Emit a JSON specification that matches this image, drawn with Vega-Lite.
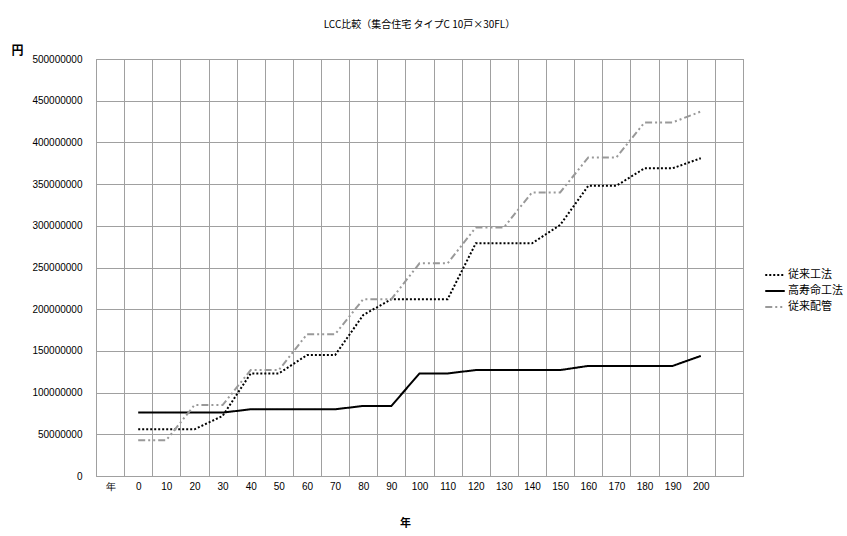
{
  "$schema": "https://vega.github.io/schema/vega-lite/v6.json",
  "width": 647,
  "height": 417,
  "autosize": {"type": "none"},
  "padding": {"left": 96, "top": 59, "right": 104, "bottom": 60},
  "background": "white",
  "title": {
    "text": "LCC比較（集合住宅 タイプC 10戸×30FL）",
    "font": "Noto Sans CJK JP",
    "fontSize": 10,
    "fontWeight": "normal",
    "color": "black",
    "anchor": "middle",
    "offset": 14
  },
  "data": {
    "values": [
      {"year": "0", "series": "従来工法", "value": 56000000},
      {"year": "10", "series": "従来工法", "value": 56000000},
      {"year": "20", "series": "従来工法", "value": 56000000},
      {"year": "30", "series": "従来工法", "value": 72000000},
      {"year": "40", "series": "従来工法", "value": 123000000},
      {"year": "50", "series": "従来工法", "value": 123000000},
      {"year": "60", "series": "従来工法", "value": 145000000},
      {"year": "70", "series": "従来工法", "value": 145000000},
      {"year": "80", "series": "従来工法", "value": 193000000},
      {"year": "90", "series": "従来工法", "value": 212000000},
      {"year": "100", "series": "従来工法", "value": 212000000},
      {"year": "110", "series": "従来工法", "value": 212000000},
      {"year": "120", "series": "従来工法", "value": 279000000},
      {"year": "130", "series": "従来工法", "value": 279000000},
      {"year": "140", "series": "従来工法", "value": 279000000},
      {"year": "150", "series": "従来工法", "value": 301000000},
      {"year": "160", "series": "従来工法", "value": 348000000},
      {"year": "170", "series": "従来工法", "value": 348000000},
      {"year": "180", "series": "従来工法", "value": 369000000},
      {"year": "190", "series": "従来工法", "value": 369000000},
      {"year": "200", "series": "従来工法", "value": 381000000},
      {"year": "0", "series": "高寿命工法", "value": 76000000},
      {"year": "10", "series": "高寿命工法", "value": 76000000},
      {"year": "20", "series": "高寿命工法", "value": 76000000},
      {"year": "30", "series": "高寿命工法", "value": 76000000},
      {"year": "40", "series": "高寿命工法", "value": 80000000},
      {"year": "50", "series": "高寿命工法", "value": 80000000},
      {"year": "60", "series": "高寿命工法", "value": 80000000},
      {"year": "70", "series": "高寿命工法", "value": 80000000},
      {"year": "80", "series": "高寿命工法", "value": 84000000},
      {"year": "90", "series": "高寿命工法", "value": 84000000},
      {"year": "100", "series": "高寿命工法", "value": 123000000},
      {"year": "110", "series": "高寿命工法", "value": 123000000},
      {"year": "120", "series": "高寿命工法", "value": 127000000},
      {"year": "130", "series": "高寿命工法", "value": 127000000},
      {"year": "140", "series": "高寿命工法", "value": 127000000},
      {"year": "150", "series": "高寿命工法", "value": 127000000},
      {"year": "160", "series": "高寿命工法", "value": 132000000},
      {"year": "170", "series": "高寿命工法", "value": 132000000},
      {"year": "180", "series": "高寿命工法", "value": 132000000},
      {"year": "190", "series": "高寿命工法", "value": 132000000},
      {"year": "200", "series": "高寿命工法", "value": 144000000},
      {"year": "0", "series": "従来配管", "value": 43000000},
      {"year": "10", "series": "従来配管", "value": 43000000},
      {"year": "20", "series": "従来配管", "value": 85000000},
      {"year": "30", "series": "従来配管", "value": 85000000},
      {"year": "40", "series": "従来配管", "value": 127000000},
      {"year": "50", "series": "従来配管", "value": 127000000},
      {"year": "60", "series": "従来配管", "value": 170000000},
      {"year": "70", "series": "従来配管", "value": 170000000},
      {"year": "80", "series": "従来配管", "value": 212000000},
      {"year": "90", "series": "従来配管", "value": 212000000},
      {"year": "100", "series": "従来配管", "value": 255000000},
      {"year": "110", "series": "従来配管", "value": 255000000},
      {"year": "120", "series": "従来配管", "value": 298000000},
      {"year": "130", "series": "従来配管", "value": 298000000},
      {"year": "140", "series": "従来配管", "value": 340000000},
      {"year": "150", "series": "従来配管", "value": 340000000},
      {"year": "160", "series": "従来配管", "value": 382000000},
      {"year": "170", "series": "従来配管", "value": 382000000},
      {"year": "180", "series": "従来配管", "value": 424000000},
      {"year": "190", "series": "従来配管", "value": 424000000},
      {"year": "200", "series": "従来配管", "value": 437000000}
    ]
  },
  "mark": {"type": "line", "strokeWidth": 2},
  "encoding": {
    "x": {
      "field": "year",
      "type": "ordinal",
      "scale": {
        "domain": ["年", "0", "10", "20", "30", "40", "50", "60", "70", "80", "90", "100", "110", "120", "130", "140", "150", "160", "170", "180", "190", "200", " "],
        "paddingInner": 0,
        "paddingOuter": 0
      },
      "axis": {
        "title": "年",
        "titleFont": "Noto Sans CJK JP",
        "titleFontSize": 11,
        "titleFontWeight": "bold",
        "titleColor": "black",
        "titleX": 309,
        "titleY": 41,
        "labelAngle": 0,
        "labelFont": "Liberation Sans",
        "labelFontSize": 10,
        "labelColor": "black",
        "labelPadding": 5,
        "ticks": false,
        "domain": false,
        "grid": true,
        "tickBand": "extent",
        "gridColor": "#a0a0a0",
        "gridOpacity": 1,
        "labelOverlap": false
      }
    },
    "y": {
      "field": "value",
      "type": "quantitative",
      "scale": {"domain": [0, 500000000], "nice": false},
      "axis": {
        "title": "円",
        "titleFont": "Noto Sans CJK JP",
        "titleFontSize": 12,
        "titleFontWeight": "bold",
        "titleColor": "black",
        "titleAngle": 0,
        "titleX": -79,
        "titleY": -9,
        "titleAlign": "center",
        "titleBaseline": "middle",
        "values": [0, 50000000, 100000000, 150000000, 200000000, 250000000, 300000000, 350000000, 400000000, 450000000, 500000000],
        "format": "d",
        "labelFont": "Liberation Sans",
        "labelFontSize": 10,
        "labelColor": "black",
        "labelPadding": 14,
        "ticks": false,
        "domain": false,
        "gridColor": "#a0a0a0",
        "gridOpacity": 1
      }
    },
    "color": {
      "field": "series",
      "type": "nominal",
      "scale": {"domain": ["従来工法", "高寿命工法", "従来配管"], "range": ["black", "black", "#999999"]},
      "legend": {
        "title": null,
        "orient": "none",
        "legendX": 668,
        "legendY": 205,
        "labelFont": "Noto Sans CJK JP",
        "labelFontSize": 11,
        "labelColor": "black",
        "symbolType": "stroke",
        "symbolSize": 380,
        "symbolStrokeWidth": 2,
        "rowPadding": -4,
        "labelOffset": 2
      }
    },
    "strokeDash": {
      "field": "series",
      "type": "nominal",
      "scale": {"domain": ["従来工法", "高寿命工法", "従来配管"], "range": [[2, 2], [1, 0], [7, 3, 2, 3, 2, 3]]},
      "legend": null
    }
  },
  "config": {
    "view": {"stroke": "#909090", "strokeWidth": 1}
  }
}
